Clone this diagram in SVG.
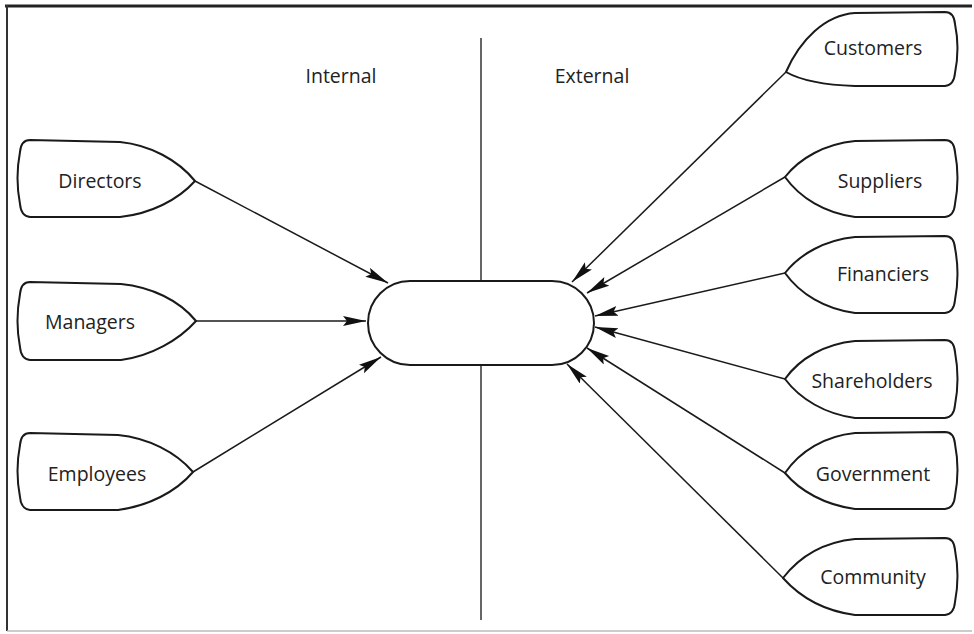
<svg xmlns="http://www.w3.org/2000/svg" width="974" height="634" viewBox="0 0 974 634">
<defs>
<style>
.node{fill:#fff;stroke:#1a1a1a;stroke-width:2;stroke-linejoin:round}
.lbl{font-family:"Open Sans","DejaVu Sans",sans-serif;font-size:19.5px;fill:#222;text-anchor:middle;dominant-baseline:central}
.conn line{stroke:#1a1a1a;stroke-width:1.5;marker-end:url(#ah)}
</style>
<marker id="ah" markerUnits="userSpaceOnUse" markerWidth="26" markerHeight="12" refX="23" refY="5" orient="auto">
<path d="M0,0 L23,5 L0,10 L4,5 Z" fill="#111"/>
</marker>
</defs>
<rect width="974" height="634" fill="#fff"/>
<g id="frame">
<line x1="5" y1="6" x2="972" y2="6" stroke="#222" stroke-width="3"/>
<line x1="7" y1="5" x2="7" y2="631" stroke="#333" stroke-width="2"/>
<line x1="7" y1="631" x2="972" y2="631" stroke="#bbb" stroke-width="1.5"/>
<line x1="481" y1="38" x2="481" y2="620" stroke="#333" stroke-width="1.5"/>
</g>
<text class="lbl" x="341" y="75">Internal</text>
<text class="lbl" x="592" y="75">External</text>
<g class="conn" id="connectors">
<line x1="195" y1="181" x2="388" y2="283"/>
<line x1="196" y1="321" x2="366" y2="321"/>
<line x1="193" y1="472" x2="381" y2="357"/>
<line x1="786" y1="72" x2="572" y2="282"/>
<line x1="785" y1="177" x2="587" y2="293"/>
<line x1="785" y1="273" x2="595" y2="316"/>
<line x1="785" y1="379" x2="595" y2="327"/>
<line x1="785" y1="473" x2="587" y2="348"/>
<line x1="783" y1="578" x2="567" y2="364"/>
</g>
<g id="center"><rect class="node" x="368" y="281" width="226" height="84" rx="42" ry="42" stroke-width="1.5"/></g>
<g id="directors"><path class="node" d="M30,140 L120,142 C150,145 178,160 195,181 C178,200 150,214 120,217 L30,217 Q21,216 20,204 Q15,178 20,152 Q21,140 30,140 Z"/><text class="lbl" x="100" y="180">Directors</text></g>
<g id="managers"><path class="node" d="M30,282 L121,284 C151,287 179,300 196,321 C179,340 151,356 121,360 L30,360 Q21,359 20,347 Q15,321 20,294 Q21,282 30,282 Z"/><text class="lbl" x="90" y="321">Managers</text></g>
<g id="employees"><path class="node" d="M30,433 L118,435 C148,438 176,452 193,472 C176,492 148,506 118,510 L30,510 Q21,509 20,497 Q15,471 20,445 Q21,433 30,433 Z"/><text class="lbl" x="97" y="473">Employees</text></g>
<g id="customers"><path class="node" d="M945,12 L855,13 C825,15 800,40 786,72 C800,80 825,85 855,86 L945,86 Q954,85 955,73 Q960,48 955,24 Q954,12 945,12 Z"/><text class="lbl" x="873" y="47">Customers</text></g>
<g id="suppliers"><path class="node" d="M945,140 L855,141 C825,144 800,158 785,177 C800,198 825,213 855,217 L945,217 Q954,216 955,204 Q960,178 955,152 Q954,140 945,140 Z"/><text class="lbl" x="880" y="180">Suppliers</text></g>
<g id="financiers"><path class="node" d="M945,236 L855,237 C825,240 800,254 785,273 C800,294 825,309 855,313 L945,313 Q954,312 955,300 Q960,274 955,248 Q954,236 945,236 Z"/><text class="lbl" x="883" y="273">Financiers</text></g>
<g id="shareholders"><path class="node" d="M945,340 L855,341 C825,344 800,358 785,379 C800,399 825,414 855,418 L945,418 Q954,417 955,405 Q960,379 955,352 Q954,340 945,340 Z"/><text class="lbl" x="872" y="380">Shareholders</text></g>
<g id="government"><path class="node" d="M945,432 L855,433 C825,436 800,451 785,473 C800,491 825,505 855,509 L945,509 Q954,508 955,496 Q960,470 955,444 Q954,432 945,432 Z"/><text class="lbl" x="873" y="473">Government</text></g>
<g id="community"><path class="node" d="M945,538 L855,539 C825,542 800,556 783,578 C800,597 825,611 855,615 L945,615 Q954,614 955,602 Q960,576 955,550 Q954,538 945,538 Z"/><text class="lbl" x="873" y="576">Community</text></g>
</svg>
